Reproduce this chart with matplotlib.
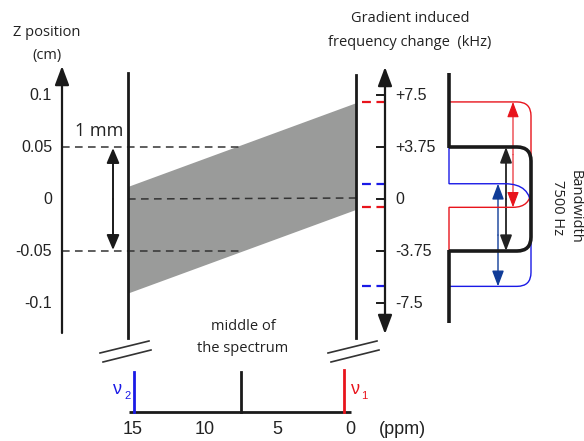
import numpy as np
import matplotlib
matplotlib.use("Agg")
import matplotlib.pyplot as plt
from matplotlib.path import Path
from matplotlib.patches import PathPatch, Polygon

# ---------------- data ----------------
z_ticks = [0.1, 0.05, 0.0, -0.05, -0.1]
z_tick_labels = ["0.1", "0.05", "0", "-0.05", "-0.1"]
freq_ticks = [7.5, 3.75, 0.0, -3.75, -7.5]
freq_tick_labels = ["+7.5", "+3.75", "0", "-3.75", "-7.5"]
ppm_ticks = [15, 10, 5, 0]
ppm_tick_labels = ["15", "10", "5", "0"]

# slice (gray band) z-limits at the left (nu2) and right (nu1) positions, cm
band_left = [-0.091, 0.0115]
band_right = [-0.0106, 0.092]
slice_marks = [0.05, -0.05]          # 1 mm slice
# excited frequency ranges (kHz)
red_range = [7.0, -0.6]               # nu1
blue_range = [1.1, -6.3]              # nu2
black_range = [3.75, -3.75]           # middle of spectrum
# ppm positions of lines
nu2_ppm, mid_ppm, nu1_ppm = 14.9, 7.5, 0.4

RED = "#e8141c"
BLUE = "#1a1ae6"
NAVY = "#103c98"
DARK = "#1a1a1a"
GRAY = "#9a9b9a"

# ---------------- layout helpers ----------------
Y0 = 199.0
def zy(z):            # z (cm) -> pixel y
    return Y0 - np.asarray(z) * 1040.0
def fy(f):            # frequency (kHz) -> pixel y
    return Y0 - np.asarray(f) * (52.0 / 3.75)
def px(p):            # ppm -> pixel x
    return 350.0 - np.asarray(p) * 14.5

XZ, XL, XR, XF, XS = 62, 128, 356, 385, 449

fig = plt.figure(figsize=(5.84, 4.41), dpi=100)
ax = fig.add_axes([0, 0, 1, 1])
ax.set_xlim(0, 584)
ax.set_ylim(441, 0)
ax.axis("off")

NUMF = "Liberation Sans"
TXTF = "Open Sans"
HDR = 10.5

def arrow(x0, y0, x1, y1, color=DARK, lw=1.6, hw=0.43, hl=1.15):
    ax.annotate("", xy=(x1, y1), xytext=(x0, y0),
                arrowprops=dict(arrowstyle=f"-|>,head_width={hw},head_length={hl}",
                                color=color, lw=lw, shrinkA=0, shrinkB=0,
                                mutation_scale=10))

# ---- gray band ----
poly = Polygon([(XL, zy(band_left[1])), (XR, zy(band_right[1])),
                (XR, zy(band_right[0])), (XL, zy(band_left[0]))],
               closed=True, facecolor=GRAY, edgecolor="none", zorder=1)
ax.add_patch(poly)

# ---- Z axis ----
arrow(XZ, 333, XZ, 66, lw=1.6)
for z, lab in zip(z_ticks, z_tick_labels):
    ax.text(XZ - 10, zy(z), lab, ha="right", va="center", fontsize=11.5,
            family=NUMF, color="#222")
ax.text(47, 32, "Z position", ha="center", va="center", fontsize=HDR,
        family=TXTF, color="#222")
ax.text(47, 55, "(cm)", ha="center", va="center", fontsize=HDR,
        family=TXTF, color="#222")

# dashed lines
for z in slice_marks:
    ax.plot([XZ, 240], [zy(z), zy(z)], ls=(0, (5, 3.5)), color="#333", lw=1.1, zorder=2)
ax.plot([XL, XR], [zy(0), zy(0) - 1], ls=(0, (5, 3.5)), color="#333", lw=1.1, zorder=2)

# 1 mm arrow
arrow(113, zy(0.0), 113, zy(slice_marks[0]) + 1, lw=1.4, hw=0.38, hl=0.9)
arrow(113, zy(0.0), 113, zy(slice_marks[1]) - 1, lw=1.4, hw=0.38, hl=0.9)
ax.text(99, 131, "1 mm", ha="center", va="center", fontsize=13,
        family=TXTF, color="#222")

# vertical lines
ax.plot([XL, XL], [73, 338], color=DARK, lw=2.0, zorder=3)
ax.plot([XR, XR], [75, 338], color=DARK, lw=2.0, zorder=3)

# break marks
for x0 in (100, 328):
    ax.plot([x0, x0 + 49], [353, 341], color="#333", lw=1.2)
    ax.plot([x0 + 3, x0 + 51], [362, 350], color="#333", lw=1.2)

# ---- frequency axis ----
arrow(XF, 200, XF, 67, lw=1.6)
arrow(XF, 200, XF, 334, lw=1.6)
for f, lab in zip(freq_ticks, freq_tick_labels):
    ax.plot([XF - 8, XF], [fy(f), fy(f)], color=DARK, lw=1.4)
    ax.text(XF + 10, fy(f), lab, ha="left", va="center", fontsize=11.5,
            family=NUMF, color="#222")
ax.text(410, 19, "Gradient induced", ha="center", va="center", fontsize=HDR,
        family=TXTF, color="#222")
ax.text(410, 43, "frequency change  (kHz)", ha="center", va="center",
        fontsize=HDR, family=TXTF, color="#222")

# colored frequency markers
for f, c in [(red_range[0], RED), (red_range[1], RED),
             (blue_range[0], BLUE), (blue_range[1], BLUE)]:
    ax.plot([362, 385], [fy(f), fy(f)], ls=(0, (4, 2.5)), color=c, lw=1.6)

# ---- spectral excitation profiles ----
def rounded(points, r=13):
    """polyline with rounded interior corners"""
    verts, codes = [points[0]], [Path.MOVETO]
    for i in range(1, len(points) - 1):
        p0, p1, p2 = map(np.array, (points[i - 1], points[i], points[i + 1]))
        d1 = (p1 - p0) / np.linalg.norm(p1 - p0)
        d2 = (p2 - p1) / np.linalg.norm(p2 - p1)
        verts += [tuple(p1 - d1 * r), tuple(p1), tuple(p1 + d2 * r)]
        codes += [Path.LINETO, Path.CURVE3, Path.CURVE3]
    verts.append(points[-1]); codes.append(Path.LINETO)
    return Path(verts, codes)

XE = 531
# black
bt, bb = fy(black_range[0]), fy(black_range[1])
ax.add_patch(PathPatch(rounded([(XS, bt), (XE, bt), (XE, bb), (XS, bb)], r=14),
                       fill=False, edgecolor=DARK, lw=2.6, zorder=5,
                       capstyle="butt", joinstyle="miter"))
ax.plot([XS, XS], [73, bt + 1], color=DARK, lw=2.6, zorder=5, solid_capstyle="butt")
ax.plot([XS, XS], [bb - 1, 323], color=DARK, lw=2.6, zorder=5, solid_capstyle="butt")

# red
rt, rb = fy(red_range[0]), fy(red_range[1])
red_verts = [(XS, rt), (XE - 14, rt), (XE, rt), (XE, rt + 14), (XE, rb - 18),
             (XE, rb), (XE - 18, rb), (XS, rb), (XS, bb)]
red_codes = [Path.MOVETO, Path.LINETO, Path.CURVE3, Path.CURVE3, Path.LINETO,
             Path.CURVE3, Path.CURVE3, Path.LINETO, Path.LINETO]
ax.add_patch(PathPatch(Path(red_verts, red_codes), fill=False, edgecolor=RED,
                       lw=1.0, zorder=4))
# blue
ut, ub = fy(blue_range[0]), fy(blue_range[1])
blue_verts = [(XS, bt), (XS, ut), (XE - 26, ut), (XE, ut), (XE, ut + 24),
              (XE, ub - 14), (XE, ub), (XE - 14, ub), (XS, ub)]
blue_codes = [Path.MOVETO, Path.LINETO, Path.LINETO, Path.CURVE3, Path.CURVE3,
              Path.LINETO, Path.CURVE3, Path.CURVE3, Path.LINETO]
ax.add_patch(PathPatch(Path(blue_verts, blue_codes), fill=False, edgecolor=BLUE,
                       lw=1.0, zorder=4))

# bandwidth arrows
def darrow(x, y0, y1, color, lw):
    ym = (y0 + y1) / 2
    arrow(x, ym, x, y0, color=color, lw=lw, hw=0.36, hl=0.95)
    arrow(x, ym, x, y1, color=color, lw=lw, hw=0.36, hl=0.95)

darrow(513, rt, rb, RED, 0.8)
darrow(506, bt, bb, "#222", 1.3)
darrow(498, ut, ub, NAVY, 1.0)

ax.text(575, 207, "Bandwidth", rotation=-90, ha="center", va="center",
        fontsize=HDR, family=TXTF, color="#222")
ax.text(557, 207, "7500 Hz", rotation=-90, ha="center", va="center",
        fontsize=HDR, family=TXTF, color="#222")

# ---- ppm axis ----
YA = 412
ax.plot([px(15) - 4, px(0) + 1], [YA, YA], color=DARK, lw=2.0, solid_capstyle="butt")
ax.plot([px(nu2_ppm)] * 2, [372, YA], color=BLUE, lw=2.0)
ax.plot([px(mid_ppm)] * 2, [372, YA], color=DARK, lw=2.0)
ax.plot([px(nu1_ppm)] * 2, [370, YA], color=RED, lw=2.0)
for p, lab in zip(ppm_ticks, ppm_tick_labels):
    ax.text(px(p), 430, lab, ha="center", va="center", fontsize=13,
            family=NUMF, color="#222")
ax.text(px(0) + 52, 430, "(ppm)", ha="center", va="center", fontsize=13,
        family=NUMF, color="#222")

ax.text(px(nu2_ppm) - 16, 389, "ν", ha="center", va="center", fontsize=13,
        family=NUMF, color=BLUE)
ax.text(px(nu2_ppm) - 6, 396, "2", ha="center", va="center", fontsize=8,
        family=NUMF, color=BLUE)
ax.text(px(nu1_ppm) + 11, 389, "ν", ha="center", va="center", fontsize=13,
        family=NUMF, color=RED)
ax.text(px(nu1_ppm) + 20, 396, "1", ha="center", va="center", fontsize=8,
        family=NUMF, color=RED)

ax.text(243, 327, "middle of", ha="center", va="center", fontsize=HDR,
        family=TXTF, color="#222")
ax.text(243, 349, "the spectrum", ha="center", va="center", fontsize=HDR,
        family=TXTF, color="#222")

fig.savefig("out.png", dpi=100)
